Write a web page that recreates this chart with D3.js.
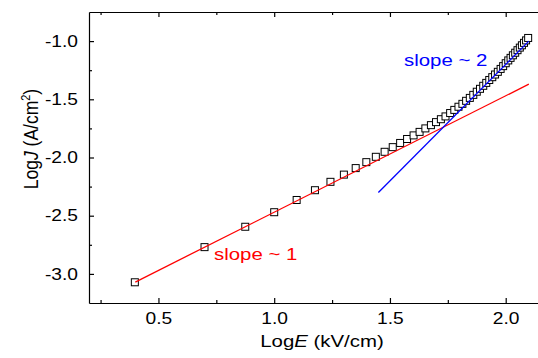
<!DOCTYPE html>
<html>
<head>
<meta charset="utf-8">
<title>LogJ vs LogE</title>
<script src="https://cdnjs.cloudflare.com/ajax/libs/d3/7.8.5/d3.min.js"></script>
<style>
  body { margin: 0; background: #fff; }
  text { font-family: "Liberation Sans", Arial, sans-serif; }
</style>
</head>
<body>
<div id="chart"></div>
<script>
// measured points (log10 of field in kV/cm, log10 of current density)
const logE = [0.398, 0.699, 0.875, 1.000, 1.097, 1.176, 1.243, 1.301, 1.352, 1.398,
              1.439, 1.477, 1.512, 1.544, 1.574, 1.602, 1.628, 1.653, 1.677, 1.699,
              1.720, 1.740, 1.760, 1.778, 1.796, 1.813, 1.829, 1.845, 1.860, 1.875,
              1.889, 1.903, 1.916, 1.929, 1.942, 1.954, 1.966, 1.978, 1.989, 2.000,
              2.011, 2.021, 2.031, 2.041, 2.051, 2.061, 2.070, 2.079, 2.088, 2.097];
const logJ = [-3.072, -2.770, -2.595, -2.470, -2.365, -2.281, -2.209, -2.147, -2.091, -2.040,
              -1.994, -1.951, -1.911, -1.875, -1.841, -1.810, -1.780, -1.750, -1.722, -1.696,
              -1.671, -1.647, -1.618, -1.591, -1.564, -1.539, -1.513, -1.488, -1.462, -1.435,
              -1.410, -1.384, -1.359, -1.334, -1.310, -1.287, -1.264, -1.239, -1.215, -1.190,
              -1.166, -1.144, -1.122, -1.100, -1.078, -1.056, -1.036, -1.015, -0.994, -0.973];

// fitted lines
const ohmicX = [0.40, 2.10];
const ohmicY = [-3.07, -1.37];
const sclcX = [1.45, 2.10];
const sclcY = [-2.30, -1.00];

const xTicks = [0.5, 1.0, 1.5, 2.0];
const xMinor = [0.25, 0.75, 1.25, 1.75];
const yTicks = [-3.0, -2.5, -2.0, -1.5, -1.0];
const yMinor = [-2.75, -2.25, -1.75, -1.25];

const width = 538, height = 358;
const plotLeft = 89, plotTop = 12, plotBottom = 303, plotRight = 552;
const stretch = 1.2;   // text in the original is drawn a bit wide

const svg = d3.select("#chart").append("svg")
  .attr("width", width)
  .attr("height", height);

const x = d3.scaleLinear().domain([0.2, 2.2]).range([plotLeft, plotRight]);
const y = d3.scaleLinear().domain([-3.25, -0.75]).range([plotBottom, plotTop]);

// points first, fit lines on top
svg.append("g").selectAll("rect")
  .data(logE)
  .enter()
  .append("rect")
    .attr("x", (d) => x(d) - 3.5)
    .attr("y", (d, i) => y(logJ[i]) - 3.5)
    .attr("width", 7)
    .attr("height", 7)
    .attr("fill", "#fff")
    .attr("stroke", "#000")
    .attr("stroke-width", 1);

const line = d3.line()
  .x((d) => x(d[0]))
  .y((d) => y(d[1]));

svg.append("path")
  .datum(d3.zip(ohmicX, ohmicY))
  .attr("d", line)
  .attr("fill", "none")
  .attr("stroke", "#ff0000")
  .attr("stroke-width", 1.3);

svg.append("path")
  .datum(d3.zip(sclcX, sclcY))
  .attr("d", line)
  .attr("fill", "none")
  .attr("stroke", "#0000ff")
  .attr("stroke-width", 1.3);

// axes, ticks pointing inward
function styleAxis(g) {
  g.selectAll("path, line").attr("stroke", "#000").attr("stroke-width", 1.2);
}

// plain hyphen for negatives, like the original
const fmt = (d) => d.toFixed(1);

const gBottom = svg.append("g")
  .attr("transform", `translate(0,${plotBottom})`)
  .call(d3.axisBottom(x).tickValues(xTicks).tickSize(-5).tickSizeOuter(0).tickPadding(10).tickFormat(fmt))
  .call(styleAxis);
gBottom.selectAll("text")
  .attr("font-size", 16)
  .attr("fill", "#000")
  .attr("transform", `scale(${stretch},1)`);

svg.append("g")
  .attr("transform", `translate(0,${plotBottom})`)
  .call(d3.axisBottom(x).tickValues(xMinor).tickSize(-3).tickFormat(""))
  .call(styleAxis)
  .select(".domain").remove();

const gLeft = svg.append("g")
  .attr("transform", `translate(${plotLeft},0)`)
  .call(d3.axisLeft(y).tickValues(yTicks).tickSize(-5).tickSizeOuter(0).tickPadding(11).tickFormat(fmt))
  .call(styleAxis);
gLeft.selectAll("text")
  .attr("font-size", 16)
  .attr("fill", "#000")
  .attr("x", -11 / stretch)
  .attr("transform", `scale(${stretch},1)`);

svg.append("g")
  .attr("transform", `translate(${plotLeft},0)`)
  .call(d3.axisLeft(y).tickValues(yMinor).tickSize(-3).tickFormat(""))
  .call(styleAxis)
  .select(".domain").remove();

// mirror axes top and right
svg.append("g")
  .attr("transform", `translate(0,${plotTop})`)
  .call(d3.axisTop(x).tickValues(xTicks).tickSize(-5).tickSizeOuter(0).tickFormat(""))
  .call(styleAxis);
svg.append("g")
  .attr("transform", `translate(0,${plotTop})`)
  .call(d3.axisTop(x).tickValues(xMinor).tickSize(-3).tickFormat(""))
  .call(styleAxis)
  .select(".domain").remove();
svg.append("g")
  .attr("transform", `translate(${plotRight},0)`)
  .call(d3.axisRight(y).tickValues(yTicks).tickSize(-5).tickSizeOuter(0).tickFormat(""))
  .call(styleAxis);

// axis titles
const xTitle = svg.append("text")
  .attr("transform", `translate(322,347) scale(${stretch},1)`)
  .attr("text-anchor", "middle")
  .attr("font-size", 17);
xTitle.append("tspan").text("Log");
xTitle.append("tspan").attr("font-style", "italic").text("E");
xTitle.append("tspan").text(" (kV/cm)");

const yTitle = svg.append("text")
  .attr("transform", `translate(38,139) scale(${stretch},1) rotate(-90)`)
  .attr("text-anchor", "middle")
  .attr("font-size", 17.5);
yTitle.append("tspan").text("Log");
yTitle.append("tspan").attr("font-style", "italic").text("J");
yTitle.append("tspan").text(" (A/cm");
yTitle.append("tspan").attr("font-size", 11).attr("dy", -7).text("2");
yTitle.append("tspan").attr("dy", 7).text(")");

// slope annotations
svg.append("text")
  .attr("transform", `translate(214,260) scale(${stretch},1)`)
  .attr("font-size", 17)
  .attr("fill", "#ff0000")
  .text("slope ~ 1");

svg.append("text")
  .attr("transform", `translate(404,66) scale(${stretch},1)`)
  .attr("font-size", 17)
  .attr("fill", "#0000ff")
  .text("slope ~ 2");
</script>
</body>
</html>
